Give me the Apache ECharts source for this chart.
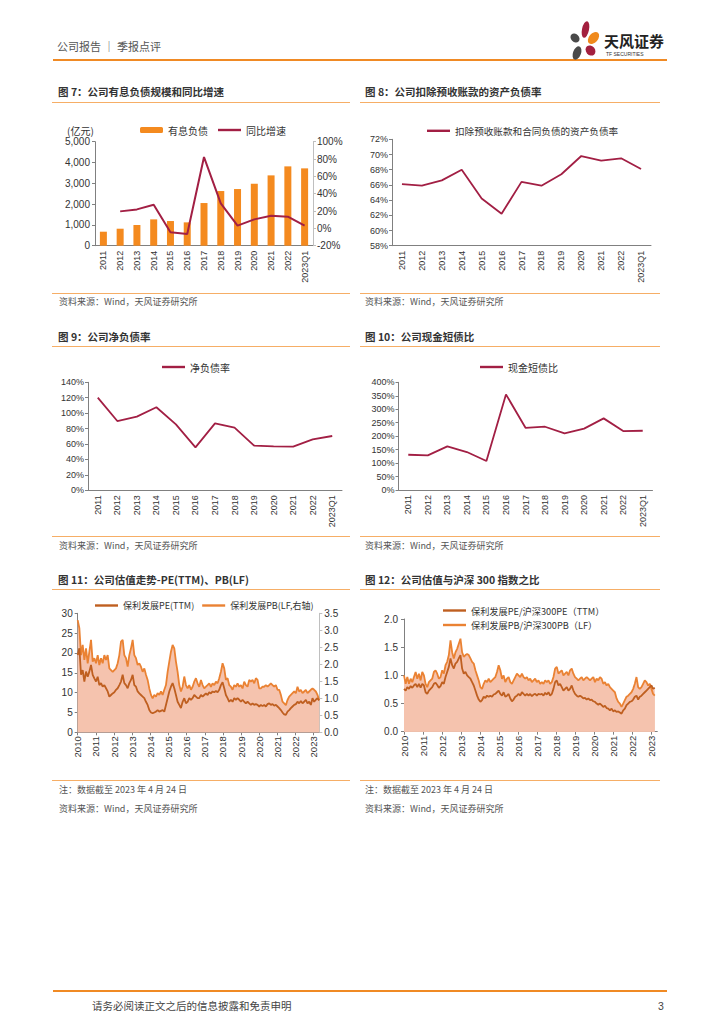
<!DOCTYPE html>
<html>
<head>
<meta charset="utf-8">
<script src="https://cdn.jsdelivr.net/npm/echarts@6/dist/echarts.min.js"></script>
<style>
html,body{margin:0;padding:0;background:#fff;}
#page{position:relative;width:724px;height:1024px;overflow:hidden;font-family:"Noto Sans CJK SC","Noto Sans",sans-serif;}
#c{position:absolute;left:0;top:0;width:724px;height:1024px;}
.t{position:absolute;white-space:nowrap;line-height:1;}
.title{font-size:10.5px;font-weight:bold;color:#333;}
.src{font-size:9px;color:#555;}
.ln{position:absolute;height:1px;background:#F6AE66;}
.pt{position:absolute;border-radius:50%;}
</style>
</head>
<body>
<div id="page">
<div id="c"></div>

<div class="t" style="left:57px;top:41px;font-size:11px;color:#555;">公司报告 ｜ 季报点评</div>
<div style="position:absolute;left:53px;top:59px;width:614px;height:2px;background:#F08A24;"></div>
<div class="pt" style="left:582px;top:21px;width:7px;height:17px;background:#A3203F;transform:rotate(12deg);"></div>
<div class="pt" style="left:589px;top:31px;width:9px;height:14px;background:#F08A1C;transform:rotate(40deg);"></div>
<div class="pt" style="left:571px;top:33px;width:8px;height:10px;background:#4a4a4a;transform:rotate(-45deg);"></div>
<div class="pt" style="left:573px;top:46px;width:8px;height:14px;background:#4a4a4a;transform:rotate(20deg);"></div>
<div class="pt" style="left:586px;top:45px;width:9px;height:11px;background:#A3203F;transform:rotate(-40deg);"></div>
<div class="t" style="left:604px;top:33px;font-size:15px;font-weight:bold;color:#222;">天风证券</div>
<div class="t" style="left:606px;top:52px;font-size:5px;color:#333;font-family:'Liberation Sans';">TF SECURITIES</div>

<div class="t title" style="left:58px;top:87px;">图 7：公司有息负债规模和同比增速</div>
<div class="t title" style="left:365px;top:87px;">图 8：公司扣除预收账款的资产负债率</div>
<div class="ln" style="left:52px;top:102px;width:298px;"></div>
<div class="ln" style="left:360px;top:102px;width:300px;"></div>
<div class="t" style="left:67px;top:126px;font-size:10px;color:#333;">(亿元)</div>
<div class="ln" style="left:52px;top:293px;width:298px;"></div>
<div class="ln" style="left:360px;top:293px;width:300px;"></div>
<div class="t src" style="left:59px;top:297px;">资料来源：Wind，天风证券研究所</div>
<div class="t src" style="left:365px;top:297px;">资料来源：Wind，天风证券研究所</div>

<div class="t title" style="left:58px;top:332px;">图 9：公司净负债率</div>
<div class="t title" style="left:365px;top:332px;">图 10：公司现金短债比</div>
<div class="ln" style="left:52px;top:346px;width:298px;"></div>
<div class="ln" style="left:360px;top:346px;width:300px;"></div>
<div class="ln" style="left:52px;top:536px;width:298px;"></div>
<div class="ln" style="left:360px;top:536px;width:300px;"></div>
<div class="t src" style="left:59px;top:541px;">资料来源：Wind，天风证券研究所</div>
<div class="t src" style="left:365px;top:541px;">资料来源：Wind，天风证券研究所</div>

<div class="t title" style="left:58px;top:575px;">图 11：公司估值走势-PE(TTM)、PB(LF)</div>
<div class="t title" style="left:365px;top:575px;">图 12：公司估值与沪深 300 指数之比</div>
<div class="ln" style="left:52px;top:589px;width:298px;"></div>
<div class="ln" style="left:360px;top:589px;width:300px;"></div>
<div class="ln" style="left:52px;top:780px;width:298px;"></div>
<div class="ln" style="left:360px;top:780px;width:300px;"></div>
<div class="t src" style="left:59px;top:785px;">注：数据截至 2023 年 4 月 24 日</div>
<div class="t src" style="left:365px;top:785px;">注：数据截至 2023 年 4 月 24 日</div>
<div class="t src" style="left:59px;top:804px;">资料来源：Wind，天风证券研究所</div>
<div class="t src" style="left:365px;top:804px;">资料来源：Wind，天风证券研究所</div>

<div style="position:absolute;left:53px;top:990px;width:614px;height:2px;background:#F08A24;"></div>
<div class="t" style="left:92px;top:1001px;font-size:10.5px;color:#444;">请务必阅读正文之后的信息披露和免责申明</div>
<div class="t" style="left:658px;top:1001px;font-size:10.5px;color:#444;font-family:'Liberation Sans';">3</div>
</div>

<script>
// ---------- data ----------
const cats = ['2011','2012','2013','2014','2015','2016','2017','2018','2019','2020','2021','2022','2023Q1'];
const debtScale = [673,817,994,1266,1186,1122,2051,2628,2724,2981,3381,3814,3718];
const debtGrowth = [null,19.6,21.9,27.3,-4.6,-6.5,82.3,28.8,3.1,10.4,14.6,13.5,3.1];
const adjDebtRatio = [66.1,65.9,66.6,68.0,64.2,62.2,66.4,65.9,67.4,69.8,69.2,69.5,68.1];
const netDebtRatio = [120.1,89.8,95.5,107.6,85.5,55.7,86.8,81.2,57.9,57.0,56.6,66.1,70.4];
const cashShortDebt = [131,128.7,162,141,107.7,355,231,235,210,228,266,219,220];

// valuation samples (regular sampling grid from 2010)
const valStart = 2010.0;
const step5 = 0.09174;   // chart 11 sample spacing (years)
const step6 = 0.08726;   // chart 12 sample spacing (years)
const yearTicks = [2010,2011,2012,2013,2014,2015,2016,2017,2018,2019,2020,2021,2022,2023];

const pb11 = [3.30,3.06,2.27,2.57,2.13,2.47,2.03,2.37,2.72,2.08,2.18,2.03,2.27,1.98,2.18,2.03,2.27,2.13,2.27,1.88,1.83,1.78,1.83,1.88,2.03,2.27,2.67,2.72,2.27,2.18,1.93,2.27,2.47,2.72,2.27,2.18,1.98,2.03,1.93,1.78,1.88,1.69,1.54,1.29,1.10,1.00,1.10,1.05,1.15,1.10,1.20,1.10,1.25,1.39,1.78,2.08,2.37,2.57,2.47,2.08,1.78,1.39,1.20,1.34,1.64,1.39,1.29,1.39,1.25,1.34,1.49,1.59,1.44,1.34,1.54,1.39,1.29,1.34,1.39,1.44,1.34,1.44,1.39,1.49,1.44,1.59,1.78,2.03,1.88,1.54,1.59,1.39,1.34,1.25,1.39,1.34,1.44,1.34,1.39,1.29,1.49,1.39,1.34,1.54,1.49,1.54,1.44,1.59,1.54,1.29,1.29,1.34,1.34,1.39,1.34,1.39,1.44,1.39,1.34,1.39,1.25,1.25,1.10,0.90,0.85,0.80,0.95,1.05,1.10,1.15,1.20,1.15,1.34,1.20,1.25,1.15,1.20,1.25,1.15,1.20,1.25,1.29,1.25,1.20,1.10,0.95];
const pe11 = [19.5,21.2,14.5,15.7,12.8,15.3,14.0,15.3,17.0,14.5,13.6,12.8,14.0,11.9,12.4,11.5,11.9,11.1,10.3,9.0,9.4,9.8,10.1,10.7,11.1,11.9,12.8,14.5,12.4,11.9,11.1,12.4,13.2,14.5,11.9,11.5,10.3,9.8,9.4,9.0,8.6,7.7,6.9,5.6,5.0,4.8,5.0,5.2,5.6,5.2,5.4,5.6,5.2,6.9,8.6,10.3,11.5,12.4,11.1,9.4,7.7,6.9,6.1,7.7,8.6,7.3,7.7,8.6,8.2,8.6,9.4,9.0,8.6,8.6,9.4,9.0,9.4,9.8,9.4,10.1,9.8,10.3,10.1,10.4,10.1,10.7,11.9,12.6,11.1,9.4,8.6,7.7,8.2,7.7,8.6,8.2,8.6,8.2,7.7,8.2,7.7,7.3,7.7,7.3,6.9,7.3,6.9,7.1,6.9,6.5,6.9,6.6,6.9,6.5,7.1,7.3,6.9,7.1,6.7,6.9,6.5,6.1,5.6,5.0,4.5,4.4,5.2,5.6,6.1,6.5,6.9,7.1,7.7,7.3,7.9,7.3,7.7,8.2,7.3,7.7,6.9,8.6,7.7,8.2,8.6,8.0];

const pb12 = [1.00,0.85,0.97,0.85,0.94,0.88,0.97,1.06,0.94,1.03,0.91,1.06,1.00,0.85,0.79,0.88,0.91,0.94,1.06,1.09,1.03,0.94,0.97,1.09,1.03,1.18,1.24,1.36,1.62,1.41,1.30,1.41,1.47,1.56,1.65,1.41,1.33,1.36,1.38,1.36,1.30,1.24,1.21,1.09,1.00,0.91,0.79,0.76,0.85,0.91,0.88,0.94,0.88,0.91,0.94,0.97,1.06,1.18,1.09,0.94,1.00,0.88,0.94,0.97,0.88,0.85,0.91,0.97,1.03,1.00,0.97,1.03,0.97,0.94,0.97,0.91,0.94,0.88,0.91,0.94,0.88,0.91,0.85,0.88,0.85,0.91,0.88,0.91,0.85,0.88,0.97,1.12,1.15,1.03,1.06,1.09,1.00,1.03,1.06,1.00,1.09,1.12,1.03,0.97,0.94,0.91,0.94,0.97,0.91,0.94,0.97,0.94,0.91,0.94,0.97,0.88,0.94,0.91,0.97,0.94,0.85,0.88,0.82,0.85,0.79,0.76,0.73,0.70,0.59,0.53,0.50,0.44,0.50,0.56,0.62,0.64,0.67,0.70,0.76,0.85,0.97,0.79,0.76,0.79,0.85,0.91,0.88,0.82,0.85,0.76,0.67,0.64];
const pe12 = [0.76,0.73,0.79,0.76,0.81,0.78,0.82,0.85,0.79,0.85,0.78,0.85,0.82,0.70,0.67,0.73,0.76,0.79,0.85,0.87,0.83,0.78,0.81,0.88,0.85,0.97,1.06,1.15,1.30,1.18,1.12,1.21,1.24,1.30,1.36,1.12,1.03,1.06,1.00,0.97,0.94,0.88,0.82,0.73,0.64,0.57,0.53,0.56,0.62,0.60,0.64,0.62,0.64,0.62,0.66,0.67,0.70,0.73,0.67,0.64,0.70,0.62,0.64,0.67,0.59,0.54,0.57,0.62,0.64,0.67,0.64,0.70,0.67,0.64,0.67,0.64,0.67,0.63,0.66,0.67,0.64,0.67,0.66,0.67,0.64,0.69,0.66,0.70,0.64,0.67,0.76,0.88,0.91,0.82,0.85,0.79,0.73,0.76,0.79,0.73,0.76,0.82,0.73,0.67,0.64,0.62,0.64,0.62,0.59,0.60,0.57,0.59,0.56,0.57,0.54,0.53,0.50,0.48,0.50,0.47,0.44,0.46,0.42,0.41,0.38,0.41,0.36,0.38,0.35,0.36,0.34,0.32,0.38,0.41,0.47,0.50,0.53,0.54,0.57,0.62,0.64,0.57,0.62,0.64,0.67,0.70,0.73,0.76,0.79,0.82,0.76,0.78];

// ---------- build ----------
const toXY = (arr, step) => arr.map((v, i) => [+(valStart + i * step).toFixed(4), v]);
const AX = '#808080';
const NUMF = 'Liberation Sans, Arial, sans-serif';
const CJK = 'Noto Sans CJK SC, sans-serif';
const lab = {color:'#333', fontSize:9, fontFamily:NUMF};
const MAROON = '#A21F44', BAR = '#F48A1F', PEC = '#BF5F20', PBC = '#EA8233', FILL = '#F5C3AE';
const LINE_ICON = 'path://M0,0h23v2.4h-23z';

function catX(g){
  return {type:'category', gridIndex:g, data:cats, boundaryGap:true,
    axisLine:{lineStyle:{color:AX}}, axisTick:{length:3, lineStyle:{color:AX}},
    axisLabel:Object.assign({}, lab, {rotate:90, margin:5})};
}
function valY(g, min, max, interval, fmt, extra){
  return Object.assign({type:'value', gridIndex:g, min, max, interval, splitLine:{show:false},
    axisLine:{show:true, lineStyle:{color:AX}}, axisTick:{show:true, length:3, lineStyle:{color:AX}},
    axisLabel:Object.assign({}, lab, {formatter:fmt, margin:4})}, extra || {});
}
function timeX(g){
  return {type:'value', gridIndex:g, min:2010, max:2023.31, splitLine:{show:false},
    axisLine:{lineStyle:{color:AX}},
    axisTick:{length:3, lineStyle:{color:AX}, customValues:yearTicks},
    axisLabel:Object.assign({}, lab, {rotate:90, margin:4, fontSize:9.5, customValues:yearTicks, formatter:v=>String(Math.round(v))})};
}
const pct = v => v + '%';
const legendBase = {itemWidth:23, itemHeight:6, padding:0, itemGap:10, symbolKeepAspect:true,
  textStyle:{fontSize:10, color:'#333', fontFamily:CJK}};
const L = o => Object.assign({}, legendBase, o);
const li = name => ({name, icon:LINE_ICON});

const option = {
  animation:false,
  grid:[
    {left:95, top:141.7, width:218, height:104},
    {left:392, top:139.3, width:259, height:106.4},
    {left:88, top:382.3, width:254, height:108},
    {left:398.5, top:382.3, width:254, height:107.7},
    {left:77.7, top:613.3, width:241.6, height:119},
    {left:404, top:619, width:253.3, height:112.7}
  ],
  xAxis:[catX(0), catX(1), catX(2), catX(3), timeX(4), timeX(5)],
  yAxis:[
    valY(0, 0, 5000, 1000, v => v.toLocaleString('en-US'), {axisLabel:Object.assign({}, lab, {fontSize:10, margin:5, formatter:v => v.toLocaleString('en-US')})}),
    valY(0, -20, 100, 20, pct, {position:'right', axisLine:{show:true, lineStyle:{color:'#bfbfbf'}}, axisTick:{show:true,length:3,lineStyle:{color:'#bfbfbf'}}, axisLabel:Object.assign({}, lab, {fontSize:10, margin:4, formatter:pct})}),
    valY(1, 58, 72, 2, pct),
    valY(2, 0, 140, 20, pct),
    valY(3, 0, 400, 50, pct),
    valY(4, 0, 30, 5, v => String(v), {axisLabel:Object.assign({}, lab, {fontSize:10, margin:5})}),
    valY(4, 0, 3.5, 0.5, v => v.toFixed(1), {position:'right', axisLine:{show:true, lineStyle:{color:'#bfbfbf'}}, axisTick:{show:true,length:3,lineStyle:{color:'#bfbfbf'}}, axisLabel:Object.assign({}, lab, {fontSize:10, margin:5, formatter:v => v.toFixed(1)})}),
    valY(5, 0, 2, 0.5, v => v.toFixed(1), {axisLabel:Object.assign({}, lab, {fontSize:10, margin:6, formatter:v => v.toFixed(1)})})
  ],
  legend:[
    L({left:140, top:125, data:['有息负债', li('同比增速')]}),
    L({left:427, top:126, data:[li('扣除预收账款和合同负债的资产负债率')], textStyle:{fontSize:9.6, color:'#333', fontFamily:CJK}}),
    L({left:162, top:362, data:[li('净负债率')]}),
    L({left:480, top:362, data:[li('现金短债比')]}),
    L({left:95, top:601, itemGap:8, data:[li('保利发展PE(TTM)'), li('保利发展PB(LF,右轴)')], textStyle:{fontSize:9, color:'#333', fontFamily:CJK}}),
    L({left:443, top:605, orient:'vertical', itemGap:3.5, data:[li('保利发展PE/沪深300PE（TTM）'), li('保利发展PB/沪深300PB（LF）')], textStyle:{fontSize:9.2, lineHeight:11, color:'#333', fontFamily:CJK}})
  ],
  series:[
    {name:'有息负债', type:'bar', xAxisIndex:0, yAxisIndex:0, data:debtScale, barWidth:7, itemStyle:{color:BAR}},
    {name:'同比增速', type:'line', xAxisIndex:0, yAxisIndex:1, data:debtGrowth, symbol:'none', lineStyle:{color:MAROON, width:2}, itemStyle:{color:MAROON}},
    {name:'扣除预收账款和合同负债的资产负债率', type:'line', xAxisIndex:1, yAxisIndex:2, data:adjDebtRatio, symbol:'none', lineStyle:{color:MAROON, width:1.8}, itemStyle:{color:MAROON}},
    {name:'净负债率', type:'line', xAxisIndex:2, yAxisIndex:3, data:netDebtRatio, symbol:'none', lineStyle:{color:MAROON, width:1.8}, itemStyle:{color:MAROON}},
    {name:'现金短债比', type:'line', xAxisIndex:3, yAxisIndex:4, data:cashShortDebt, symbol:'none', lineStyle:{color:MAROON, width:1.8}, itemStyle:{color:MAROON}},
    // chart 11 areas
    {name:'a11pb', type:'line', xAxisIndex:4, yAxisIndex:6, data:toXY(pb11, step5), symbol:'none', z:1, lineStyle:{opacity:0}, areaStyle:{color:FILL, opacity:1}},
    {name:'a11pe', type:'line', xAxisIndex:4, yAxisIndex:5, data:toXY(pe11, step5), symbol:'none', z:1, lineStyle:{opacity:0}, areaStyle:{color:FILL, opacity:1}},
    {name:'保利发展PB(LF,右轴)', type:'line', xAxisIndex:4, yAxisIndex:6, data:toXY(pb11, step5), symbol:'none', z:3, lineStyle:{color:PBC, width:1.8}, itemStyle:{color:PBC}},
    {name:'保利发展PE(TTM)', type:'line', xAxisIndex:4, yAxisIndex:5, data:toXY(pe11, step5), symbol:'none', z:3, lineStyle:{color:PEC, width:1.8}, itemStyle:{color:PEC}},
    // chart 12 areas
    {name:'a12pb', type:'line', xAxisIndex:5, yAxisIndex:7, data:toXY(pb12, step6), symbol:'none', z:1, lineStyle:{opacity:0}, areaStyle:{color:FILL, opacity:1}},
    {name:'a12pe', type:'line', xAxisIndex:5, yAxisIndex:7, data:toXY(pe12, step6), symbol:'none', z:1, lineStyle:{opacity:0}, areaStyle:{color:FILL, opacity:1}},
    {name:'保利发展PB/沪深300PB（LF）', type:'line', xAxisIndex:5, yAxisIndex:7, data:toXY(pb12, step6), symbol:'none', z:3, lineStyle:{color:PBC, width:1.8}, itemStyle:{color:PBC}},
    {name:'保利发展PE/沪深300PE（TTM）', type:'line', xAxisIndex:5, yAxisIndex:7, data:toXY(pe12, step6), symbol:'none', z:3, lineStyle:{color:PEC, width:1.8}, itemStyle:{color:PEC}}
  ]
};
const chart = echarts.init(document.getElementById('c'), null, {renderer:'svg', width:724, height:1024});
chart.setOption(option);
</script>
</body>
</html>
